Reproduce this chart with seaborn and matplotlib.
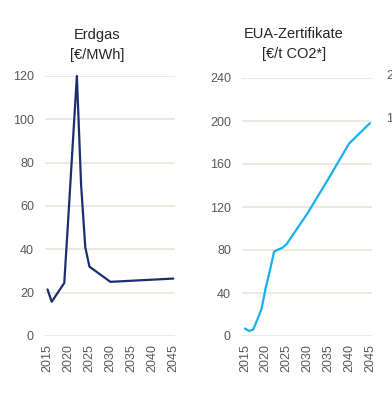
import numpy as np
import matplotlib
matplotlib.use("Agg")
import matplotlib.pyplot as plt
import seaborn as sns

# Erdgas price path [€/MWh]
gas_years = [2015, 2016, 2017, 2018, 2019, 2020, 2021, 2022, 2023, 2024, 2025, 2030, 2035, 2040, 2045]
gas_price = [21.5, 15.8, 18.7, 21.6, 24.5, 56, 88, 120, 70, 41, 32, 25, 25.5, 26, 26.5]

# EUA certificate price path [€/t CO2]
eua_years = [2015, 2016, 2017, 2018, 2019, 2020, 2021, 2022, 2023, 2024, 2025, 2030, 2035, 2040, 2045]
eua_price = [7, 4.7, 6, 15.5, 25.5, 45, 61, 78.5, 80.5, 82, 85.5, 114, 146, 179, 198]

x_ticks = [2015, 2020, 2025, 2030, 2035, 2040, 2045]
gas_yticks = [0, 20, 40, 60, 80, 100, 120]
eua_yticks = [0, 40, 80, 120, 160, 200, 240]

GRID = "#e6e4da"
TICK = "#595959"

sns.set_style("white")
plt.rcParams["font.family"] = ["Liberation Sans", "DejaVu Sans"]

W, H = 392, 408
fig = plt.figure(figsize=(W / 100, H / 100), dpi=100)


def px_axes(x0, x1, ytop, ybot):
    return fig.add_axes([x0 / W, 1 - ybot / H, (x1 - x0) / W, (ybot - ytop) / H])


def style(ax, yticks, ylim, xlim):
    ax.set_xlim(*xlim)
    ax.set_ylim(*ylim)
    ax.set_yticks(yticks)
    ax.set_xticks(x_ticks)
    ax.set_xticklabels([str(t) for t in x_ticks], rotation=90)
    ax.grid(axis="y", color=GRID, lw=1.1)
    ax.set_axisbelow(True)
    for s in ax.spines.values():
        s.set_visible(False)
    ax.tick_params(axis="y", length=0, pad=8, labelsize=9, labelcolor=TICK)
    ax.tick_params(axis="x", length=0, pad=6, labelsize=9, labelcolor=TICK)
    ax.set_xlabel("")
    ax.set_ylabel("")


ax1 = px_axes(45, 175, 76, 336)
sns.lineplot(x=gas_years, y=gas_price, ax=ax1, color="#1b2f6e", lw=1.6)
style(ax1, gas_yticks, (0, 120), (2014.4, 2045.4))
for ln in ax1.lines:
    ln.set_clip_on(False)

ax2 = px_axes(242, 372, 78, 336)
sns.lineplot(x=eua_years, y=eua_price, ax=ax2, color="#1ab0ec", lw=1.6)
style(ax2, eua_yticks, (0, 240), (2014.3, 2045.5))

fig.text(97 / W, 1 - 35 / H, "Erdgas", ha="center", va="center", fontsize=10.5, color="#262626")
fig.text(97 / W, 1 - 55 / H, "[€/MWh]", ha="center", va="center", fontsize=10.5, color="#262626")
fig.text(294 / W, 1 - 34 / H, "EUA-Zertifikate", ha="center", va="center", fontsize=10.5, color="#262626")
fig.text(294 / W, 1 - 54 / H, "[€/t CO2*]", ha="center", va="center", fontsize=10.5, color="#262626")

# fragments of the neighbouring panels cut off at the edges
fig.text(386 / W, 1 - 76 / H, "2", ha="left", va="center", fontsize=9, color=TICK)
fig.text(386 / W, 1 - 119 / H, "1", ha="left", va="center", fontsize=9, color=TICK)
fig.text(-3 / W, 1 - 358 / H, "2045", ha="center", va="center", rotation=90, fontsize=9, color=TICK)

fig.savefig("out.png", dpi=100)
